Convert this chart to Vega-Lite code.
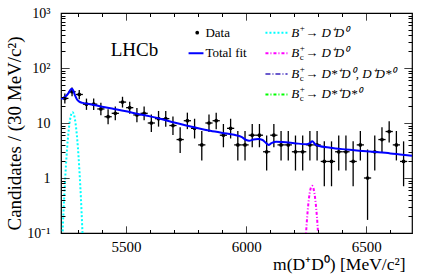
{
  "$schema": "https://vega.github.io/schema/vega-lite/v6.json",
  "width": 351,
  "height": 220,
  "autosize": {"type": "none"},
  "padding": {"left": 61, "top": 13, "right": 24, "bottom": 45},
  "background": "white",
  "resolve": {"axis": {"x": "independent", "y": "independent"}},
  "config": {
    "view": {"stroke": "black", "strokeWidth": 1.2},
    "font": "Liberation Serif, Times New Roman, serif",
    "text": {"font": "Liberation Serif, Times New Roman, serif"},
    "axis": {"zindex": 1, "domain": false, "grid": false, "labelFont": "Liberation Serif, Times New Roman, serif", "titleFont": "Liberation Serif, Times New Roman, serif", "labelColor": "black", "titleColor": "black", "tickColor": "black", "tickWidth": 1, "titleFontWeight": "normal"}
  },
  "datasets": {
    "pts": [
      {"m":5245,"mlo":5230,"mhi":5260,"n":28,"lo":22.66,"hi":34.37},
      {"m":5275,"mlo":5260,"mhi":5290,"n":37,"lo":30.74,"hi":44.16},
      {"m":5305,"mlo":5290,"mhi":5320,"n":33,"lo":27.15,"hi":39.84},
      {"m":5335,"mlo":5320,"mhi":5350,"n":22,"lo":17.32,"hi":27.77},
      {"m":5365,"mlo":5350,"mhi":5380,"n":22,"lo":17.32,"hi":27.77},
      {"m":5395,"mlo":5380,"mhi":5410,"n":18,"lo":13.79,"hi":23.32},
      {"m":5425,"mlo":5410,"mhi":5440,"n":13,"lo":9.441,"hi":17.70},
      {"m":5455,"mlo":5440,"mhi":5470,"n":15,"lo":11.17,"hi":19.96},
      {"m":5485,"mlo":5470,"mhi":5500,"n":24,"lo":19.10,"hi":29.98},
      {"m":5515,"mlo":5500,"mhi":5530,"n":19,"lo":14.67,"hi":24.44},
      {"m":5545,"mlo":5530,"mhi":5560,"n":14,"lo":10.30,"hi":18.83},
      {"m":5575,"mlo":5560,"mhi":5590,"n":15,"lo":11.17,"hi":19.96},
      {"m":5605,"mlo":5590,"mhi":5620,"n":10,"lo":6.891,"hi":14.27},
      {"m":5635,"mlo":5620,"mhi":5650,"n":12,"lo":8.585,"hi":16.56},
      {"m":5665,"mlo":5650,"mhi":5680,"n":12,"lo":8.585,"hi":16.56},
      {"m":5695,"mlo":5680,"mhi":5710,"n":9,"lo":6.057,"hi":13.11},
      {"m":5725,"mlo":5710,"mhi":5740,"n":5,"lo":2.840,"hi":8.382},
      {"m":5755,"mlo":5740,"mhi":5770,"n":11,"lo":7.734,"hi":15.42},
      {"m":5785,"mlo":5770,"mhi":5800,"n":8,"lo":5.232,"hi":11.95},
      {"m":5815,"mlo":5800,"mhi":5830,"n":4,"lo":2.086,"hi":7.163},
      {"m":5845,"mlo":5830,"mhi":5860,"n":10,"lo":6.891,"hi":14.27},
      {"m":5875,"mlo":5860,"mhi":5890,"n":11,"lo":7.734,"hi":15.42},
      {"m":5905,"mlo":5890,"mhi":5920,"n":6,"lo":3.620,"hi":9.584},
      {"m":5935,"mlo":5920,"mhi":5950,"n":8,"lo":5.232,"hi":11.95},
      {"m":5965,"mlo":5950,"mhi":5980,"n":4,"lo":2.086,"hi":7.163},
      {"m":5995,"mlo":5980,"mhi":6010,"n":4,"lo":2.086,"hi":7.163},
      {"m":6025,"mlo":6010,"mhi":6040,"n":6,"lo":3.620,"hi":9.584},
      {"m":6055,"mlo":6040,"mhi":6070,"n":6,"lo":3.620,"hi":9.584},
      {"m":6085,"mlo":6070,"mhi":6100,"n":3,"lo":1.367,"hi":5.918},
      {"m":6115,"mlo":6100,"mhi":6130,"n":6,"lo":3.620,"hi":9.584},
      {"m":6145,"mlo":6130,"mhi":6160,"n":4,"lo":2.086,"hi":7.163},
      {"m":6175,"mlo":6160,"mhi":6190,"n":4,"lo":2.086,"hi":7.163},
      {"m":6205,"mlo":6190,"mhi":6220,"n":3,"lo":1.367,"hi":5.918},
      {"m":6235,"mlo":6220,"mhi":6250,"n":3,"lo":1.367,"hi":5.918},
      {"m":6265,"mlo":6250,"mhi":6280,"n":4,"lo":2.086,"hi":7.163},
      {"m":6295,"mlo":6280,"mhi":6310,"n":4,"lo":2.086,"hi":7.163},
      {"m":6325,"mlo":6310,"mhi":6340,"n":2,"lo":0.708,"hi":4.638},
      {"m":6355,"mlo":6340,"mhi":6370,"n":2,"lo":0.708,"hi":4.638},
      {"m":6385,"mlo":6370,"mhi":6400,"n":3,"lo":1.367,"hi":5.918},
      {"m":6415,"mlo":6400,"mhi":6430,"n":3,"lo":1.367,"hi":5.918},
      {"m":6445,"mlo":6430,"mhi":6460,"n":2,"lo":0.708,"hi":4.638},
      {"m":6475,"mlo":6460,"mhi":6490,"n":4,"lo":2.086,"hi":7.163},
      {"m":6505,"mlo":6490,"mhi":6520,"n":1,"lo":0.173,"hi":3.300},
      {"m":6535,"mlo":6520,"mhi":6550,"n":3,"lo":1.367,"hi":5.918},
      {"m":6565,"mlo":6550,"mhi":6580,"n":5,"lo":2.840,"hi":8.382},
      {"m":6595,"mlo":6580,"mhi":6610,"n":7,"lo":4.419,"hi":10.77},
      {"m":6625,"mlo":6610,"mhi":6640,"n":4,"lo":2.086,"hi":7.163},
      {"m":6655,"mlo":6640,"mhi":6670,"n":2,"lo":0.708,"hi":4.638}
    ],
    "fit": [
      {"m":5229,"v":27},{"m":5240,"v":29},{"m":5250,"v":31},{"m":5260,"v":35},{"m":5268,"v":40},
      {"m":5274,"v":42},{"m":5280,"v":39},{"m":5287,"v":32},{"m":5295,"v":27},{"m":5305,"v":24.5},
      {"m":5320,"v":23.2},{"m":5350,"v":22},{"m":5400,"v":19.8},{"m":5450,"v":18},{"m":5500,"v":16.3},
      {"m":5550,"v":14.6},{"m":5600,"v":13.2},{"m":5650,"v":11.7},{"m":5700,"v":10.2},{"m":5750,"v":9.0},
      {"m":5800,"v":8.0},{"m":5850,"v":7.2},{"m":5900,"v":6.6},{"m":5950,"v":6.1},{"m":5980,"v":5.6},
      {"m":6000,"v":4.9},{"m":6012,"v":4.75},{"m":6030,"v":5.0},{"m":6050,"v":5.1},{"m":6068,"v":4.9},
      {"m":6083,"v":4.3},{"m":6093,"v":4.0},{"m":6105,"v":4.3},{"m":6125,"v":4.55},{"m":6150,"v":4.5},
      {"m":6200,"v":4.3},{"m":6250,"v":4.1},{"m":6265,"v":4.3},{"m":6275,"v":4.65},{"m":6287,"v":4.1},
      {"m":6300,"v":3.85},{"m":6350,"v":3.55},{"m":6400,"v":3.35},{"m":6450,"v":3.2},{"m":6500,"v":3.05},
      {"m":6550,"v":2.93},{"m":6600,"v":2.8},{"m":6650,"v":2.65},{"m":6690,"v":2.55}
    ],
    "bp": [
      {"m":5232,"v":0.039},{"m":5237,"v":0.138},{"m":5242,"v":0.42},{"m":5247,"v":1.09},{"m":5252,"v":2.47},
      {"m":5257,"v":4.81},{"m":5262,"v":8.07},{"m":5267,"v":11.7},{"m":5272,"v":14.6},{"m":5277,"v":15.7},
      {"m":5282,"v":14.6},{"m":5287,"v":11.7},{"m":5292,"v":8.07},{"m":5297,"v":4.81},{"m":5302,"v":2.47},
      {"m":5307,"v":1.09},{"m":5312,"v":0.42},{"m":5317,"v":0.138},{"m":5322,"v":0.039}
    ],
    "bc": [
      {"m":6239,"v":0.015},{"m":6244,"v":0.042},{"m":6249,"v":0.1},{"m":6254,"v":0.204},{"m":6259,"v":0.354},
      {"m":6264,"v":0.525},{"m":6269,"v":0.665},{"m":6274,"v":0.72},{"m":6279,"v":0.665},{"m":6284,"v":0.525},
      {"m":6289,"v":0.354},{"m":6294,"v":0.204},{"m":6299,"v":0.1},{"m":6304,"v":0.042},{"m":6309,"v":0.015}
    ],
    "legl": [
      {"m1":5760,"m2":5822,"v":185,"k":"fit"},
      {"m1":6080,"m2":6172,"v":438,"k":"bp"},
      {"m1":6080,"m2":6172,"v":185,"k":"bc"},
      {"m1":6080,"m2":6172,"v":77.8,"k":"bcs"},
      {"m1":6080,"m2":6172,"v":33,"k":"bcss"}
    ],
    "legt": [
      {"m":5830,"v":438,"t":"Data"},
      {"m":5830,"v":185,"t":"Total fit"}
    ],
    "legd": [{"m":5796,"v":438}],
    "lhcb": [{"m":5535,"v":212,"t":"LHCb"}],
    "legb": [
      {"m":6187,"v":438,"sub":"","rest":"→ D⁺D⁰"},
      {"m":6187,"v":185,"sub":"c","rest":"→ D⁺D⁰"},
      {"m":6187,"v":77.8,"sub":"c","rest":"→ D*⁺D⁰, D⁺D*⁰"},
      {"m":6187,"v":33,"sub":"c","rest":"→ D*⁺D*⁰"}
    ]
  },
  "layer": [
    {
      "data": {"name": "pts"},
      "mark": {"type": "rule", "color": "black", "strokeWidth": 1.3},
      "encoding": {
        "x": {"field": "m", "type": "quantitative", "scale": {"domain": [5229, 6690], "nice": false, "zero": false},
              "axis": {"orient": "bottom", "zindex": 1, "values": [5300, 5400, 5500, 5600, 5700, 5800, 5900, 6000, 6100, 6200, 6300, 6400, 6500, 6600],
                       "labelExpr": "datum.value % 500 === 0 ? '' + datum.value : ''",
                       "offset": -7, "tickSize": 7,
                       "tickDash": {"condition": {"test": "datum.value % 500 === 0", "value": [1, 0]}, "value": [0, 3.5, 3.5, 100]},
                       "labelFontSize": 15, "labelPadding": 6,
                       "title": "m(D⁺D⁰) [MeV/c²]", "titleFontSize": 17.5, "titleAlign": "right", "titleAnchor": "end", "titleX": 344, "titleY": 43, "titleBaseline": "alphabetic"}},
        "y": {"field": "lo", "type": "quantitative", "scale": {"type": "log", "domain": [0.1, 1000], "nice": false},
              "axis": {"orient": "left", "zindex": 1, "values": [0.1,0.2,0.3,0.4,0.5,0.6,0.7,0.8,0.9,1,2,3,4,5,6,7,8,9,10,20,30,40,50,60,70,80,90,100,200,300,400,500,600,700,800,900,1000],
                       "offset": -8, "tickSize": 8,
                       "tickDash": {"condition": {"test": "indexof([0.1, 1, 10, 100, 1000], datum.value) >= 0", "value": [1, 0]}, "value": [0, 4, 4, 100]},
                       "labelFontSize": 14, "labelPadding": 11,
                       "labelExpr": "datum.value == 1000 ? '10³' : datum.value == 100 ? '10²' : datum.value == 10 ? '10' : datum.value == 1 ? '1' : datum.value == 0.1 ? '10⁻¹' : ''",
                       "title": "Candidates / (30 MeV/c²)", "titleFontSize": 19, "titleAngle": 270, "titleAlign": "center", "titleBaseline": "middle", "titleX": -55, "titleY": 120}},
        "y2": {"field": "hi"}
      }
    },
    {
      "data": {"name": "pts"},
      "mark": {"type": "rule", "color": "black", "strokeWidth": 1.3},
      "encoding": {
        "x": {"field": "mlo", "type": "quantitative", "scale": {"domain": [5229, 6690], "nice": false, "zero": false},
              "axis": {"orient": "top", "zindex": 1, "values": [5300, 5400, 5500, 5600, 5700, 5800, 5900, 6000, 6100, 6200, 6300, 6400, 6500, 6600],
                       "labels": false, "title": null, "offset": -7, "tickSize": 7,
                       "tickDash": {"condition": {"test": "datum.value % 500 === 0", "value": [1, 0]}, "value": [0, 3.5, 3.5, 100]}}},
        "x2": {"field": "mhi"},
        "y": {"field": "n", "type": "quantitative", "scale": {"type": "log", "domain": [0.1, 1000], "nice": false},
              "axis": {"orient": "right", "zindex": 1, "values": [0.1,0.2,0.3,0.4,0.5,0.6,0.7,0.8,0.9,1,2,3,4,5,6,7,8,9,10,20,30,40,50,60,70,80,90,100,200,300,400,500,600,700,800,900,1000],
                       "labels": false, "title": null, "offset": -8, "tickSize": 8,
                       "tickDash": {"condition": {"test": "indexof([0.1, 1, 10, 100, 1000], datum.value) >= 0", "value": [1, 0]}, "value": [0, 4, 4, 100]}}}
      }
    },
    {
      "data": {"name": "pts"},
      "mark": {"type": "point", "filled": true, "shape": "circle", "color": "black", "size": 14, "opacity": 1},
      "encoding": {
        "x": {"field": "m", "type": "quantitative", "scale": {"domain": [5229, 6690], "nice": false, "zero": false}, "axis": null},
        "y": {"field": "n", "type": "quantitative", "scale": {"type": "log", "domain": [0.1, 1000], "nice": false}, "axis": null}
      }
    },
    {
      "data": {"name": "fit"},
      "mark": {"type": "line", "color": "#0000ff", "strokeWidth": 2, "interpolate": "monotone", "clip": true},
      "encoding": {
        "x": {"field": "m", "type": "quantitative", "scale": {"domain": [5229, 6690], "nice": false, "zero": false}, "axis": null},
        "y": {"field": "v", "type": "quantitative", "scale": {"type": "log", "domain": [0.1, 1000], "nice": false}, "axis": null}
      }
    },
    {
      "data": {"name": "bp"},
      "mark": {"type": "line", "color": "#00ffff", "strokeWidth": 2, "strokeDash": [2, 2], "interpolate": "monotone", "clip": true},
      "encoding": {
        "x": {"field": "m", "type": "quantitative", "scale": {"domain": [5229, 6690], "nice": false, "zero": false}, "axis": null},
        "y": {"field": "v", "type": "quantitative", "scale": {"type": "log", "domain": [0.1, 1000], "nice": false}, "axis": null}
      }
    },
    {
      "data": {"name": "bc"},
      "mark": {"type": "line", "color": "#ff00ff", "strokeWidth": 2, "strokeDash": [3, 2, 1, 2], "interpolate": "monotone", "clip": true},
      "encoding": {
        "x": {"field": "m", "type": "quantitative", "scale": {"domain": [5229, 6690], "nice": false, "zero": false}, "axis": null},
        "y": {"field": "v", "type": "quantitative", "scale": {"type": "log", "domain": [0.1, 1000], "nice": false}, "axis": null}
      }
    },
    {
      "data": {"name": "legl"},
      "mark": {"type": "rule", "strokeWidth": 2},
      "encoding": {
        "x": {"field": "m1", "type": "quantitative", "scale": {"domain": [5229, 6690], "nice": false, "zero": false}, "axis": null},
        "x2": {"field": "m2"},
        "y": {"field": "v", "type": "quantitative", "scale": {"type": "log", "domain": [0.1, 1000], "nice": false}, "axis": null},
        "color": {"field": "k", "type": "nominal", "legend": null, "scale": {"domain": ["fit", "bp", "bc", "bcs", "bcss"], "range": ["#0000ff", "#00ffff", "#ff00ff", "#6a5acd", "#00ff00"]}},
        "strokeDash": {"field": "k", "type": "nominal", "legend": null, "scale": {"domain": ["fit", "bp", "bc", "bcs", "bcss"], "range": [[1, 0], [2, 2], [3, 2, 1, 2], [5, 2, 1, 2], [3, 2, 1, 2]]}}
      }
    },
    {
      "data": {"name": "legd"},
      "mark": {"type": "point", "filled": true, "shape": "circle", "color": "black", "size": 14, "opacity": 1},
      "encoding": {
        "x": {"field": "m", "type": "quantitative", "axis": null},
        "y": {"field": "v", "type": "quantitative", "axis": null}
      }
    },
    {
      "data": {"name": "legt"},
      "mark": {"type": "text", "align": "left", "baseline": "middle", "fontSize": 13, "font": "Liberation Serif, Times New Roman, serif", "color": "black"},
      "encoding": {
        "x": {"field": "m", "type": "quantitative", "axis": null},
        "y": {"field": "v", "type": "quantitative", "axis": null},
        "text": {"field": "t"}
      }
    },
    {
      "data": {"name": "legb"},
      "mark": {"type": "text", "align": "left", "baseline": "middle", "fontSize": 13, "font": "Liberation Serif, Times New Roman, serif", "fontStyle": "italic", "color": "black", "text": "B"},
      "encoding": {
        "x": {"field": "m", "type": "quantitative", "axis": null},
        "y": {"field": "v", "type": "quantitative", "axis": null}
      }
    },
    {
      "data": {"name": "legb"},
      "mark": {"type": "text", "align": "left", "baseline": "middle", "fontSize": 9, "font": "Liberation Serif, Times New Roman, serif", "color": "black", "dx": 8.5, "dy": 4},
      "encoding": {
        "x": {"field": "m", "type": "quantitative", "axis": null},
        "y": {"field": "v", "type": "quantitative", "axis": null},
        "text": {"field": "sub"}
      }
    },
    {
      "data": {"name": "legb"},
      "mark": {"type": "text", "align": "left", "baseline": "middle", "fontSize": 9, "font": "Liberation Serif, Times New Roman, serif", "color": "black", "dx": 8.5, "dy": -5, "text": "+"},
      "encoding": {
        "x": {"field": "m", "type": "quantitative", "axis": null},
        "y": {"field": "v", "type": "quantitative", "axis": null}
      }
    },
    {
      "data": {"name": "legb"},
      "mark": {"type": "text", "align": "left", "baseline": "middle", "fontSize": 13, "font": "Liberation Serif, Times New Roman, serif", "fontStyle": "italic", "color": "black", "dx": 14},
      "encoding": {
        "x": {"field": "m", "type": "quantitative", "axis": null},
        "y": {"field": "v", "type": "quantitative", "axis": null},
        "text": {"field": "rest"}
      }
    },
    {
      "data": {"name": "lhcb"},
      "mark": {"type": "text", "align": "center", "baseline": "middle", "fontSize": 19, "font": "Liberation Serif, Times New Roman, serif", "color": "black"},
      "encoding": {
        "x": {"field": "m", "type": "quantitative", "axis": null},
        "y": {"field": "v", "type": "quantitative", "axis": null},
        "text": {"field": "t"}
      }
    }
  ]
}
